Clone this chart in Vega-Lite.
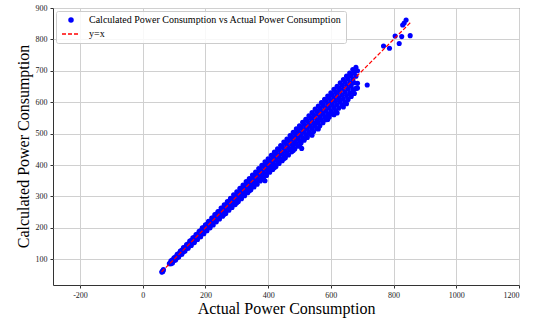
{
  "$schema": "https://vega.github.io/schema/vega-lite/v6.json",
  "width": 466,
  "height": 277,
  "autosize": "none",
  "padding": {"left": 53, "top": 8, "right": 25, "bottom": 36},
  "background": "white",
  "config": {
    "view": {"stroke": "#333333", "strokeWidth": 1},
    "font": "Liberation Serif",
    "axis": {
      "grid": true, "gridColor": "#d0d0d0", "gridWidth": 1, "domain": false,
      "tickColor": "#333333", "tickSize": 3, "labelOverlap": false,
      "labelFont": "Liberation Serif", "labelFontSize": 8, "labelColor": "#222222", "labelPadding": 3,
      "labelExpr": "'' + datum.value",
      "titleFont": "Liberation Serif", "titleFontSize": 16, "titleFontWeight": "normal", "titleColor": "#000000"
    },
    "legend": {
      "labelFont": "Liberation Serif", "labelFontSize": 10, "labelColor": "#000000", "labelLimit": 400
    }
  },
  "datasets": {
    "pts": [
      {"a":61,"c":59},{"a":63,"c":62},{"a":65,"c":64},{"a":66,"c":67},{"a":64,"c":61},{"a":62,"c":60},
      {"a":85,"c":86},{"a":88,"c":88},
      {"a":90,"c":95},{"a":90,"c":90},{"a":90,"c":86},{"a":95,"c":98},{"a":95,"c":93},{"a":95,"c":88},
      {"a":100,"c":105},{"a":100,"c":101},{"a":100,"c":96},{"a":105,"c":108},{"a":105,"c":103},{"a":105,"c":98},
      {"a":110,"c":116},{"a":110,"c":111},{"a":110,"c":105},{"a":115,"c":118},{"a":115,"c":113},{"a":115,"c":107},
      {"a":120,"c":126},{"a":120,"c":121},{"a":120,"c":115},{"a":125,"c":129},{"a":125,"c":123},{"a":125,"c":116},
      {"a":130,"c":137},{"a":130,"c":131},{"a":130,"c":124},{"a":135,"c":139},{"a":135,"c":132},{"a":135,"c":126},
      {"a":140,"c":147},{"a":140,"c":141},{"a":140,"c":134},{"a":145,"c":149},{"a":145,"c":142},{"a":145,"c":135},
      {"a":150,"c":158},{"a":150,"c":151},{"a":150,"c":143},{"a":155,"c":160},{"a":155,"c":152},{"a":155,"c":144},
      {"a":160,"c":168},{"a":160,"c":161},{"a":160,"c":153},{"a":165,"c":170},{"a":165,"c":162},{"a":165,"c":153},
      {"a":170,"c":179},{"a":170,"c":171},{"a":170,"c":162},{"a":175,"c":180},{"a":175,"c":172},{"a":175,"c":163},
      {"a":180,"c":189},{"a":180,"c":181},{"a":180,"c":172},{"a":185,"c":191},{"a":185,"c":181},{"a":185,"c":172},
      {"a":190,"c":200},{"a":190,"c":191},{"a":190,"c":181},{"a":195,"c":201},{"a":195,"c":191},{"a":195,"c":181},
      {"a":200,"c":210},{"a":200,"c":201},{"a":200,"c":191},{"a":205,"c":211},{"a":205,"c":201},{"a":205,"c":191},
      {"a":210,"c":221},{"a":210,"c":211},{"a":210,"c":201},{"a":215,"c":221},{"a":215,"c":211},{"a":215,"c":200},
      {"a":220,"c":231},{"a":220,"c":221},{"a":220,"c":210},{"a":225,"c":232},{"a":225,"c":221},{"a":225,"c":209},
      {"a":230,"c":242},{"a":230,"c":231},{"a":230,"c":220},{"a":235,"c":244},{"a":235,"c":230},{"a":235,"c":219},
      {"a":240,"c":252},{"a":240,"c":241},{"a":240,"c":229},{"a":245,"c":252},{"a":245,"c":240},{"a":245,"c":228},
      {"a":250,"c":263},{"a":250,"c":251},{"a":250,"c":239},{"a":255,"c":263},{"a":255,"c":250},{"a":255,"c":237},
      {"a":260,"c":273},{"a":260,"c":261},{"a":260,"c":248},{"a":265,"c":273},{"a":265,"c":260},{"a":265,"c":246},
      {"a":270,"c":284},{"a":270,"c":271},{"a":270,"c":258},{"a":275,"c":283},{"a":275,"c":270},{"a":275,"c":256},
      {"a":280,"c":294},{"a":280,"c":281},{"a":280,"c":267},{"a":285,"c":294},{"a":285,"c":279},{"a":285,"c":265},
      {"a":290,"c":305},{"a":290,"c":291},{"a":290,"c":277},{"a":295,"c":304},{"a":295,"c":289},{"a":295,"c":274},
      {"a":300,"c":315},{"a":300,"c":302},{"a":300,"c":287},{"a":305,"c":314},{"a":305,"c":299},{"a":305,"c":284},
      {"a":310,"c":326},{"a":310,"c":312},{"a":310,"c":296},{"a":315,"c":324},{"a":315,"c":309},{"a":315,"c":293},
      {"a":320,"c":336},{"a":320,"c":322},{"a":320,"c":306},{"a":325,"c":335},{"a":325,"c":319},{"a":325,"c":302},
      {"a":330,"c":347},{"a":330,"c":332},{"a":330,"c":315},{"a":335,"c":345},{"a":335,"c":328},{"a":335,"c":312},
      {"a":340,"c":357},{"a":340,"c":342},{"a":340,"c":325},{"a":345,"c":355},{"a":345,"c":338},{"a":345,"c":321},
      {"a":350,"c":368},{"a":350,"c":352},{"a":350,"c":334},{"a":355,"c":366},{"a":355,"c":348},{"a":355,"c":330},
      {"a":360,"c":378},{"a":360,"c":362},{"a":360,"c":344},{"a":365,"c":376},{"a":365,"c":358},{"a":365,"c":339},
      {"a":370,"c":389},{"a":370,"c":372},{"a":370,"c":353},{"a":375,"c":386},{"a":375,"c":368},{"a":375,"c":349},
      {"a":380,"c":399},{"a":380,"c":382},{"a":380,"c":363},{"a":385,"c":397},{"a":385,"c":377},{"a":385,"c":358},
      {"a":390,"c":410},{"a":390,"c":392},{"a":390,"c":372},{"a":395,"c":407},{"a":395,"c":387},{"a":395,"c":367},
      {"a":400,"c":420},{"a":400,"c":402},{"a":400,"c":382},{"a":405,"c":417},{"a":405,"c":397},{"a":405,"c":377},
      {"a":410,"c":431},{"a":410,"c":412},{"a":410,"c":392},{"a":415,"c":427},{"a":415,"c":407},{"a":415,"c":386},
      {"a":420,"c":441},{"a":420,"c":422},{"a":420,"c":401},{"a":425,"c":438},{"a":425,"c":417},{"a":425,"c":395},
      {"a":430,"c":452},{"a":430,"c":432},{"a":430,"c":411},{"a":435,"c":448},{"a":435,"c":426},{"a":435,"c":405},
      {"a":440,"c":462},{"a":440,"c":442},{"a":440,"c":420},{"a":445,"c":458},{"a":445,"c":436},{"a":445,"c":414},
      {"a":450,"c":473},{"a":450,"c":452},{"a":450,"c":430},{"a":455,"c":469},{"a":455,"c":446},{"a":455,"c":423},
      {"a":460,"c":483},{"a":460,"c":462},{"a":460,"c":439},{"a":465,"c":479},{"a":465,"c":456},{"a":465,"c":432},
      {"a":470,"c":494},{"a":470,"c":472},{"a":470,"c":449},{"a":475,"c":489},{"a":475,"c":466},{"a":475,"c":442},
      {"a":480,"c":504},{"a":480,"c":482},{"a":480,"c":458},{"a":485,"c":500},{"a":485,"c":475},{"a":485,"c":451},
      {"a":490,"c":515},{"a":490,"c":492},{"a":490,"c":468},{"a":495,"c":510},{"a":495,"c":485},{"a":495,"c":460},
      {"a":500,"c":525},{"a":500,"c":503},{"a":500,"c":478},{"a":505,"c":520},{"a":505,"c":495},{"a":505,"c":470},
      {"a":510,"c":536},{"a":510,"c":513},{"a":510,"c":487},{"a":515,"c":530},{"a":515,"c":505},{"a":515,"c":479},
      {"a":520,"c":546},{"a":520,"c":523},{"a":520,"c":497},{"a":525,"c":541},{"a":525,"c":515},{"a":525,"c":488},
      {"a":530,"c":557},{"a":530,"c":533},{"a":530,"c":506},{"a":535,"c":551},{"a":535,"c":524},{"a":535,"c":498},
      {"a":540,"c":567},{"a":540,"c":543},{"a":540,"c":516},{"a":545,"c":561},{"a":545,"c":534},{"a":545,"c":507},
      {"a":550,"c":578},{"a":550,"c":553},{"a":550,"c":525},{"a":555,"c":572},{"a":555,"c":544},{"a":555,"c":516},
      {"a":560,"c":588},{"a":560,"c":563},{"a":560,"c":535},{"a":565,"c":582},{"a":565,"c":554},{"a":565,"c":525},
      {"a":570,"c":599},{"a":570,"c":573},{"a":570,"c":544},{"a":575,"c":592},{"a":575,"c":564},{"a":575,"c":535},
      {"a":580,"c":609},{"a":580,"c":583},{"a":580,"c":554},{"a":585,"c":603},{"a":585,"c":573},{"a":585,"c":544},
      {"a":590,"c":620},{"a":590,"c":593},{"a":590,"c":563},{"a":595,"c":613},{"a":595,"c":583},{"a":595,"c":553},
      {"a":600,"c":630},{"a":600,"c":603},{"a":600,"c":573},{"a":605,"c":623},{"a":605,"c":593},{"a":605,"c":563},
      {"a":610,"c":641},{"a":610,"c":613},{"a":610,"c":583},{"a":615,"c":633},{"a":615,"c":603},{"a":615,"c":572},
      {"a":620,"c":651},{"a":620,"c":623},{"a":620,"c":592},{"a":625,"c":644},{"a":625,"c":613},{"a":625,"c":581},
      {"a":630,"c":662},{"a":630,"c":633},{"a":630,"c":602},{"a":635,"c":654},{"a":635,"c":622},{"a":635,"c":591},
      {"a":640,"c":672},{"a":640,"c":643},{"a":640,"c":611},{"a":645,"c":664},{"a":645,"c":632},{"a":645,"c":600},
      {"a":650,"c":683},{"a":650,"c":653},{"a":650,"c":621},{"a":655,"c":675},{"a":655,"c":642},{"a":655,"c":609},
      {"a":660,"c":693},{"a":660,"c":663},{"a":660,"c":630},{"a":665,"c":685},{"a":665,"c":652},{"a":665,"c":618},
      {"a":670,"c":704},{"a":670,"c":673},{"a":670,"c":640},{"a":675,"c":695},{"a":675,"c":662},{"a":675,"c":628},
      {"a":680,"c":711},{"a":680,"c":683},{"a":680,"c":644},{"a":685,"c":700},{"a":685,"c":660},{"a":685,"c":645},
      {"a":260,"c":243},{"a":300,"c":280},{"a":340,"c":318},{"a":380,"c":355},{"a":420,"c":392},{"a":450,"c":420},
      {"a":480,"c":446},{"a":500,"c":462},{"a":540,"c":495},{"a":560,"c":515},{"a":590,"c":545},{"a":610,"c":560},
      {"a":620,"c":566},{"a":640,"c":585},{"a":650,"c":595},
      {"a":390,"c":350},{"a":507,"c":453},{"a":716,"c":655},{"a":768,"c":779},{"a":787,"c":772},{"a":805,"c":811},
      {"a":818,"c":787},{"a":826,"c":809},{"a":829,"c":846},{"a":834,"c":852},{"a":840,"c":862},{"a":853,"c":812}
    ],
    "line": [{"a":60,"c":60},{"a":856,"c":856}]
  },
  "encoding": {
    "x": {"field": "a", "type": "quantitative",
          "scale": {"domain": [-286, 1200], "nice": false, "zero": false},
          "axis": {"values": [-200, 0, 200, 400, 600, 800, 1000, 1200], "title": "Actual Power Consumption",
                   "titleY": 28, "titleBaseline": "alphabetic"}},
    "y": {"field": "c", "type": "quantitative",
          "scale": {"domain": [18, 900], "nice": false, "zero": false},
          "axis": {"values": [100, 200, 300, 400, 500, 600, 700, 800, 900], "labelOverlap": false, "title": "Calculated Power Consumption",
                   "titleX": -25, "titleY": 138, "titleAngle": -90, "titleAlign": "center", "titleBaseline": "alphabetic"}},
    "color": {
      "datum": "Calculated Power Consumption vs Actual Power Consumption", "type": "nominal",
      "scale": {"domain": ["Calculated Power Consumption vs Actual Power Consumption", "y=x"], "range": ["#0000ff", "#ff0000"]},
      "legend": {
        "title": null, "orient": "top-left", "offset": 3,
        "fillColor": "rgba(255,255,255,0.85)", "strokeColor": "#cccccc", "cornerRadius": 2,
        "padding": 4, "rowPadding": 4, "labelOffset": 13, "labelLimit": 400, "symbolOffset": 6,
        "symbolType": {"expr": "datum.value === 'y=x' ? 'stroke' : 'circle'"},
        "symbolSize": {"expr": "datum.value === 'y=x' ? 324 : 30"},
        "symbolDash": {"expr": "datum.value === 'y=x' ? [4, 2] : [1, 0]"},
        "symbolStrokeColor": {"expr": "datum.value === 'y=x' ? '#ff3333' : '#0000ff'"},
        "symbolFillColor": {"expr": "datum.value === 'y=x' ? 'transparent' : '#0000ff'"},
        "symbolStrokeWidth": {"expr": "datum.value === 'y=x' ? 1.5 : 0"}
      }
    }
  },
  "layer": [
    {
      "data": {"name": "pts"},
      "mark": {"type": "circle", "size": 26, "opacity": 1}
    },
    {
      "data": {"name": "line"},
      "mark": {"type": "line", "strokeDash": [4, 2], "strokeWidth": 1.2},
      "encoding": {
        "color": {"datum": "y=x", "type": "nominal"}
      }
    }
  ]
}
